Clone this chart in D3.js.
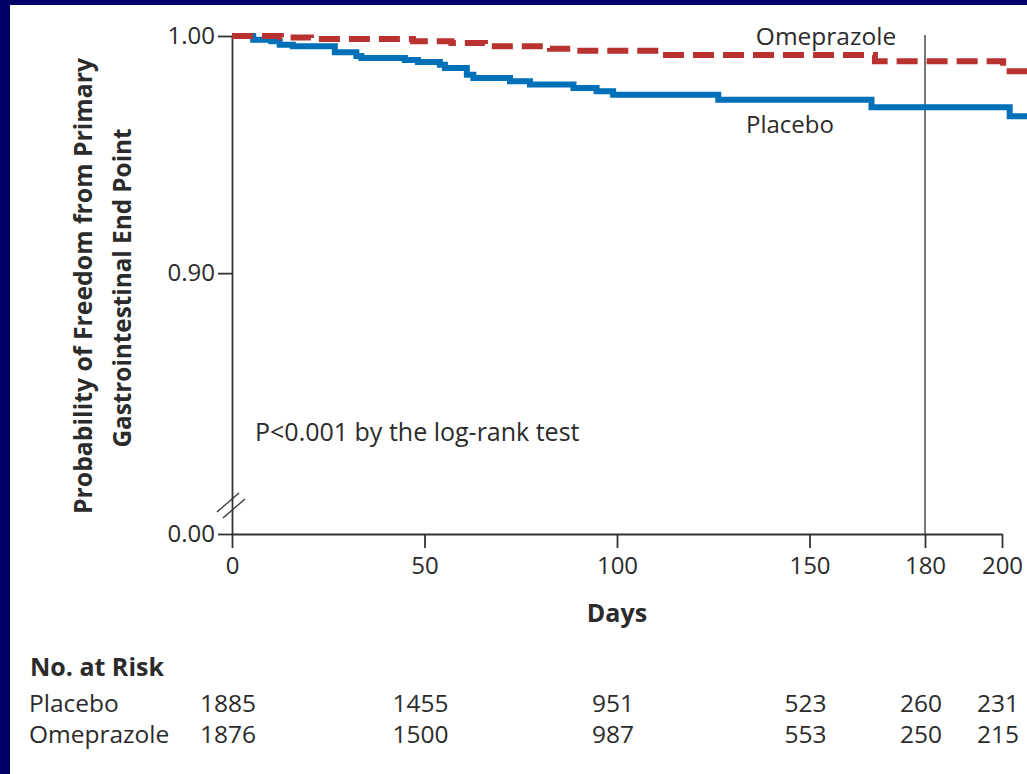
<!DOCTYPE html>
<html>
<head>
<meta charset="utf-8">
<script src="https://cdnjs.cloudflare.com/ajax/libs/d3/7.8.5/d3.min.js"></script>
<style>
  html, body { margin: 0; padding: 0; background: #000066; }
  svg { display: block; }
  text { font-family: "Open Sans", sans-serif; fill: #2b2b2b; }
</style>
</head>
<body>
<script>
// Kaplan-Meier curves
const placeboDays = [0, 5.5, 10.2, 12.4, 15.8, 26.7, 32.3, 33.6, 44.9, 48.3, 54, 55.3, 61, 62.7, 72.2, 77.4, 88.7, 94.7, 99, 126.3, 166.1, 202, 207];
const placeboSurv = [1.0, 0.9984, 0.9978, 0.9963, 0.9957, 0.9932, 0.9916, 0.9907, 0.9899, 0.9890, 0.9879, 0.9865, 0.9837, 0.9823, 0.9809, 0.9795, 0.9781, 0.9767, 0.9752, 0.9731, 0.9700, 0.9662, 0.9662];

const omeDays = [0, 12.7, 20.5, 47, 57, 65.7, 82.6, 88.6, 111.2, 167, 200.3, 207];
const omeSurv = [1.0, 0.9994, 0.9987, 0.9978, 0.9970, 0.9957, 0.9946, 0.9938, 0.9920, 0.9893, 0.9851, 0.9851];

// axes
const xTicks = [0, 50, 100, 150, 180, 200];
const yBottom = 0.79;   // broken axis: bottom of axis is labelled 0.00
const yTicks = [yBottom, 0.90, 1.00];

// number at risk
const riskDays = [0, 50, 100, 150, 180, 200];
const placeboRisk = [1885, 1455, 951, 523, 260, 231];
const omeRisk = [1876, 1500, 987, 553, 250, 215];

const width = 1027, height = 774;
const colors = { placebo: "#0070b9", ome: "#b8322f", axis: "#333" };

const svg = d3.select("body").append("svg")
    .attr("width", width)
    .attr("height", height);

// white panel on navy background
svg.append("rect")
    .attr("x", 10).attr("y", 5)
    .attr("width", width - 10).attr("height", height - 5)
    .attr("fill", "#fff");

const x = d3.scaleLinear().domain([0, 200]).range([232, 1002]);
const y = d3.scaleLinear().domain([yBottom, 1.0]).range([534, 36]);

// vertical reference line at 180 days
svg.append("line")
    .attr("x1", x(180)).attr("x2", x(180))
    .attr("y1", y(1.0) - 1).attr("y2", y(yBottom))
    .attr("stroke", "#555").attr("stroke-width", 1.6);

// x axis
const xAxis = svg.append("g")
    .attr("transform", `translate(0,${y(yBottom)})`)
    .call(d3.axisBottom(x).tickValues(xTicks).tickSize(14).tickSizeOuter(0).tickPadding(9));

// y axis
const yAxis = svg.append("g")
    .attr("transform", `translate(${x(0)},0)`)
    .call(d3.axisLeft(y).tickValues(yTicks).tickSize(14).tickSizeOuter(0).tickPadding(3)
        .tickFormat(d => d === yBottom ? "0.00" : d3.format(".2f")(d)));

[xAxis, yAxis].forEach(g => {
    g.select(".domain").attr("stroke", colors.axis).attr("stroke-width", 1.8);
    g.selectAll(".tick line").attr("stroke", colors.axis).attr("stroke-width", 1.8);
    g.selectAll(".tick text")
        .style("font-family", "'Open Sans', sans-serif")
        .style("font-size", "24px")
        .attr("fill", "#2b2b2b");
});

// axis break marks
const breakY = 505;
[-3, 3].forEach(off => {
    svg.append("line")
        .attr("x1", x(0) - 12 + off).attr("y1", breakY + 10 + off)
        .attr("x2", x(0) + 10 + off).attr("y2", breakY - 9 + off)
        .attr("stroke", colors.axis).attr("stroke-width", 1.3);
});

// curves
const line = d3.line()
    .x(d => x(d[0]))
    .y(d => y(d[1]))
    .curve(d3.curveStepAfter);

svg.append("path")
    .datum(d3.zip(placeboDays, placeboSurv))
    .attr("d", line)
    .attr("fill", "none")
    .attr("stroke", colors.placebo)
    .attr("stroke-width", 6);

svg.append("path")
    .datum(d3.zip(omeDays, omeSurv))
    .attr("d", line)
    .attr("fill", "none")
    .attr("stroke", colors.ome)
    .attr("stroke-width", 6)
    .attr("stroke-dasharray", "21,9");

// labels in plot
svg.append("text").attr("x", 826).attr("y", 45)
    .attr("text-anchor", "middle").style("font-size", "24.5px").text("Omeprazole");
svg.append("text").attr("x", 746).attr("y", 133)
    .style("font-size", "24px").text("Placebo");
svg.append("text").attr("x", 255).attr("y", 441)
    .style("font-size", "25px").text("P<0.001 by the log-rank test");

// axis titles
svg.append("text").attr("x", 617).attr("y", 622)
    .attr("text-anchor", "middle")
    .style("font-size", "25px").style("font-weight", "bold").text("Days");

const yTitle = svg.append("g").attr("transform", "translate(0,286) rotate(-90)");
yTitle.append("text").attr("x", 0).attr("y", 92)
    .attr("text-anchor", "middle")
    .style("font-size", "24.8px").style("font-weight", "bold")
    .text("Probability of Freedom from Primary");
yTitle.append("text").attr("x", -2).attr("y", 131)
    .attr("text-anchor", "middle")
    .style("font-size", "24.3px").style("font-weight", "bold")
    .text("Gastrointestinal End Point");

// number at risk table
svg.append("text").attr("x", 30).attr("y", 676)
    .style("font-size", "25px").style("font-weight", "bold").text("No. at Risk");

const rows = [
    { name: "Placebo", values: placeboRisk, yPos: 712 },
    { name: "Omeprazole", values: omeRisk, yPos: 743 }
];
rows.forEach(r => {
    svg.append("text").attr("x", 29).attr("y", r.yPos)
        .style("font-size", "24.5px").text(r.name);
    svg.append("g").selectAll("text")
        .data(r.values)
        .enter().append("text")
        .attr("x", (d, i) => x(riskDays[i]) - 4)
        .attr("y", r.yPos)
        .attr("text-anchor", "middle")
        .style("font-size", "24.5px")
        .text(d => d);
});
</script>
</body>
</html>
